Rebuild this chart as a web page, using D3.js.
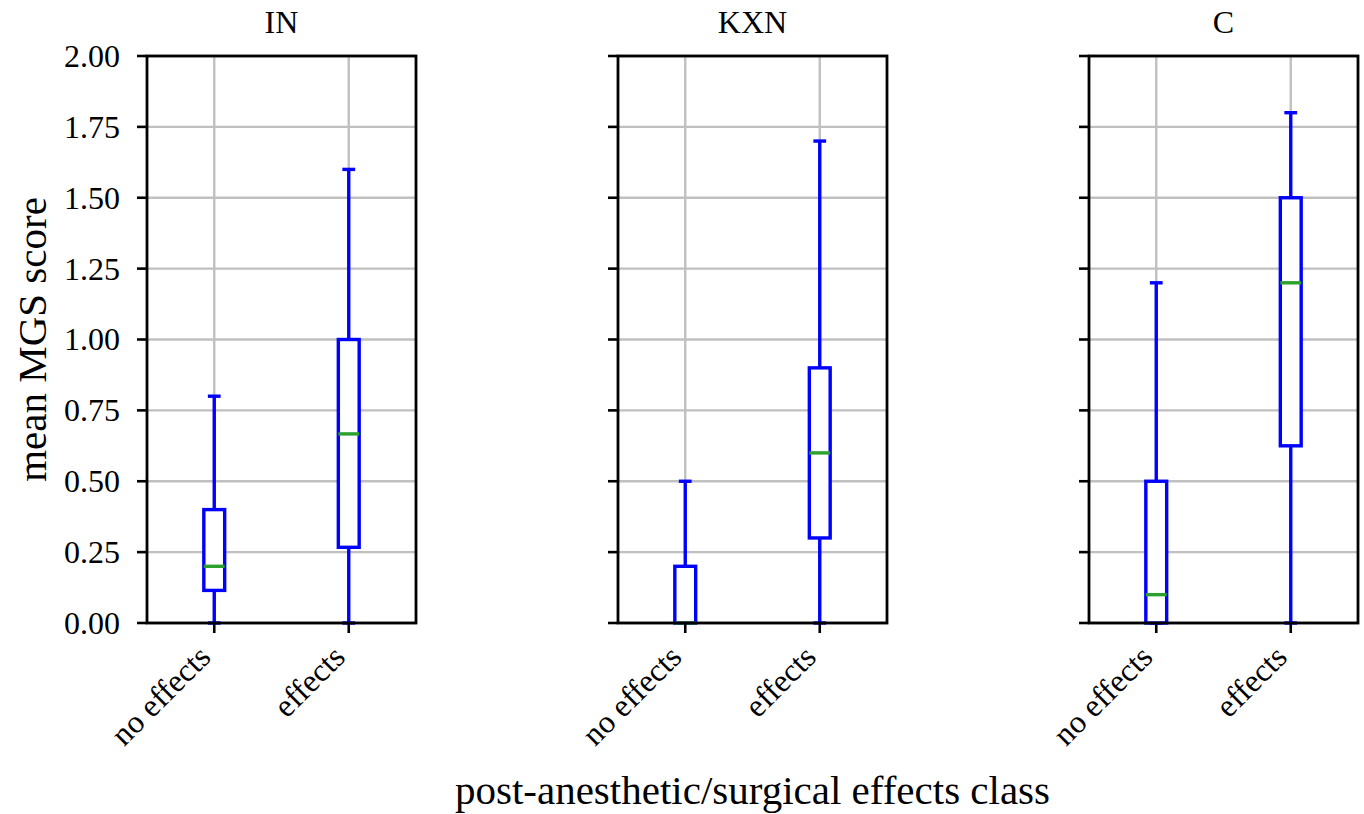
<!DOCTYPE html>
<html>
<head>
<meta charset="utf-8">
<script src="https://cdn.jsdelivr.net/npm/d3@7"></script>
<style>
  body { margin: 0; background: #fff; }
</style>
</head>
<body>
<svg id="chart" width="1364" height="814"></svg>
<script>
// panels and classes
const panels = ["IN", "KXN", "C"];
const classes = ["no effects", "effects"];

// box stats per panel, order follows classes
const whiskerLow = [[0, 0], [0, 0], [0, 0]];
const q1 = [[0.115, 0.267], [0, 0.30], [0, 0.625]];
const medians = [[0.20, 0.667], [0, 0.60], [0.10, 1.20]];
const q3 = [[0.40, 1.00], [0.20, 0.90], [0.50, 1.50]];
const whiskerHigh = [[0.80, 1.60], [0.50, 1.70], [1.20, 1.80]];

const yTicks = [0, 0.25, 0.5, 0.75, 1.0, 1.25, 1.5, 1.75, 2.0];

const panelLeft = [147, 618, 1089];
const panelWidth = 269;
const plotTop = 56, plotBottom = 623;
const serif = "'Liberation Serif', 'DejaVu Serif', serif";
const tickSize = 32, labelSize = 41;

const svg = d3.select("#chart");

const y = d3.scaleLinear().domain([0, 2]).range([plotBottom, plotTop]);

panels.forEach(function (name, p) {
    let x = d3.scaleLinear().domain([0.5, 2.5]).range([panelLeft[p], panelLeft[p] + panelWidth]);
    let g = svg.append("g");

    // grid
    g.selectAll(".hgrid").data(yTicks).enter().append("line")
        .attr("x1", x(0.5)).attr("x2", x(2.5))
        .attr("y1", d => y(d)).attr("y2", d => y(d))
        .attr("stroke", "#c0c0c0").attr("stroke-width", 2.4);
    g.selectAll(".vgrid").data(classes).enter().append("line")
        .attr("x1", (d, i) => x(i + 1)).attr("x2", (d, i) => x(i + 1))
        .attr("y1", y(0)).attr("y2", y(2))
        .attr("stroke", "#c0c0c0").attr("stroke-width", 2.4);

    // boxes
    let boxW = 0.155, capW = 0.095;
    classes.forEach(function (c, i) {
        let cx = i + 1;
        let bg = g.append("g").attr("stroke", "#0000ff").attr("stroke-width", 3.4).attr("fill", "none");
        // whiskers
        bg.append("line").attr("x1", x(cx)).attr("x2", x(cx))
            .attr("y1", y(q3[p][i])).attr("y2", y(whiskerHigh[p][i]));
        bg.append("line").attr("x1", x(cx)).attr("x2", x(cx))
            .attr("y1", y(q1[p][i])).attr("y2", y(whiskerLow[p][i]));
        // caps
        bg.append("line").attr("x1", x(cx - capW / 2)).attr("x2", x(cx + capW / 2))
            .attr("y1", y(whiskerHigh[p][i])).attr("y2", y(whiskerHigh[p][i]));
        bg.append("line").attr("x1", x(cx - capW / 2)).attr("x2", x(cx + capW / 2))
            .attr("y1", y(whiskerLow[p][i])).attr("y2", y(whiskerLow[p][i]));
        // box
        bg.append("rect")
            .attr("x", x(cx - boxW / 2)).attr("width", x(cx + boxW / 2) - x(cx - boxW / 2))
            .attr("y", y(q3[p][i])).attr("height", y(q1[p][i]) - y(q3[p][i]))
            .attr("fill", "#fff");
        // median
        g.append("line").attr("x1", x(cx - boxW / 2)).attr("x2", x(cx + boxW / 2))
            .attr("y1", y(medians[p][i])).attr("y2", y(medians[p][i]))
            .attr("stroke", "#2ca02c").attr("stroke-width", 3.4);
    });

    // frame
    g.append("rect").attr("x", x(0.5)).attr("y", y(2))
        .attr("width", x(2.5) - x(0.5)).attr("height", y(0) - y(2))
        .attr("fill", "none").attr("stroke", "#000").attr("stroke-width", 2.8);

    // y ticks
    g.selectAll(".ytick").data(yTicks).enter().append("line")
        .attr("x1", x(0.5) - 10).attr("x2", x(0.5))
        .attr("y1", d => y(d)).attr("y2", d => y(d))
        .attr("stroke", "#000").attr("stroke-width", 2.6);
    if (p === 0) {
        g.selectAll(".ylab").data(yTicks).enter().append("text")
            .attr("x", x(0.5) - 27).attr("y", d => y(d))
            .attr("dy", "0.34em")
            .attr("text-anchor", "end")
            .attr("font-family", serif)
            .attr("font-size", tickSize)
            .text(d => d.toFixed(2));
    }

    // x ticks
    g.selectAll(".xtick").data(classes).enter().append("line")
        .attr("x1", (d, i) => x(i + 1)).attr("x2", (d, i) => x(i + 1))
        .attr("y1", y(0)).attr("y2", y(0) + 10)
        .attr("stroke", "#000").attr("stroke-width", 2.6);
    g.selectAll(".xlab").data(classes).enter().append("text")
        .attr("transform", (d, i) => "translate(" + (x(i + 1) - 2) + "," + (y(0) + 36) + ")rotate(-45)")
        .attr("text-anchor", "end")
        .attr("font-family", serif)
        .attr("font-size", tickSize)
        .text(d => d);

    // title
    g.append("text")
        .attr("x", (x(0.5) + x(2.5)) / 2).attr("y", 33)
        .attr("text-anchor", "middle")
        .attr("font-family", serif)
        .attr("font-size", tickSize)
        .text(name);
});

// axis labels
svg.append("text")
    .attr("transform", "translate(46," + (plotTop + plotBottom) / 2 + ")rotate(-90)")
    .attr("text-anchor", "middle")
    .attr("font-family", serif)
    .attr("font-size", labelSize)
    .text("mean MGS score");

svg.append("text")
    .attr("x", panelLeft[1] + panelWidth / 2).attr("y", 804)
    .attr("text-anchor", "middle")
    .attr("font-family", serif)
    .attr("font-size", labelSize)
    .text("post-anesthetic/surgical effects class");
</script>
</body>
</html>
